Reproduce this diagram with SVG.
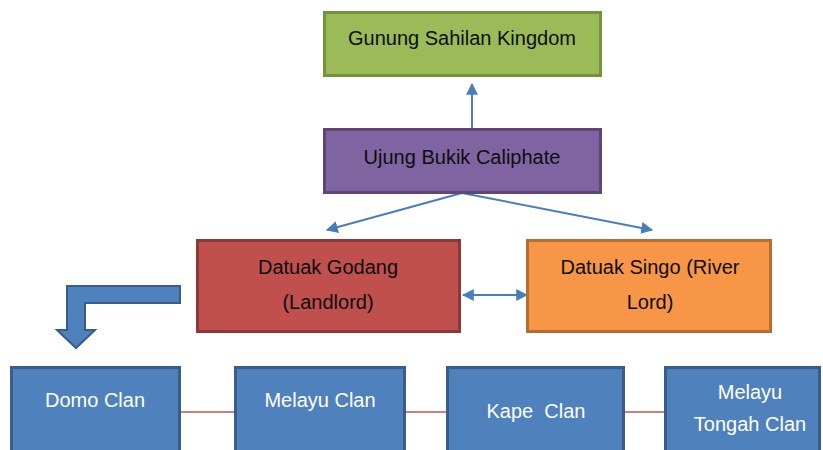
<svg xmlns="http://www.w3.org/2000/svg" width="823" height="450" viewBox="0 0 823 450">
<defs>
<style>
text{font-family:"Liberation Sans",Arial,sans-serif;font-size:20px;text-anchor:middle;}
.dark{fill:#0d0d0d;}
.light{fill:#fff;}
.box{stroke-width:3;}
.conn{stroke:#4a7ebb;stroke-width:2;fill:none;}
.link{stroke:#c0504d;stroke-width:1.5;fill:none;}
</style>
<marker id="ah2" viewBox="0 0 10 10" refX="9" refY="5" markerWidth="12" markerHeight="12" markerUnits="userSpaceOnUse" orient="auto-start-reverse">
<path d="M0,0 L10,5 L0,10 z" fill="#4a7ebb"/>
</marker>
</defs>
<rect width="823" height="450" fill="#fff"/>
<g id="connectors">
<line class="conn" x1="472" y1="128" x2="472" y2="84" marker-end="url(#ah2)"/>
<line class="conn" x1="462" y1="193" x2="327" y2="230" marker-end="url(#ah2)"/>
<line class="conn" x1="462" y1="193" x2="652" y2="230" marker-end="url(#ah2)"/>
<line class="conn" x1="463" y1="295" x2="527" y2="295" marker-start="url(#ah2)" marker-end="url(#ah2)"/>
<line class="link" x1="180" y1="412" x2="235" y2="412"/>
<line class="link" x1="405" y1="412" x2="447" y2="412"/>
<line class="link" x1="624" y1="412" x2="665" y2="412"/>
<path d="M180,286 L67,286 L67,330 L57,330 L76,348 L95,330 L85,330 L85,303 L180,303 Z" fill="#4f81bd" stroke="#385d8a" stroke-width="2" stroke-linejoin="miter"/>
</g>
<g id="gunung">
<rect class="box" x="324.5" y="12.5" width="276" height="63" fill="#9bbb59" stroke="#76923c"/>
<text class="dark" x="462" y="45">Gunung Sahilan Kingdom</text>
</g>
<g id="ujung">
<rect class="box" x="324.5" y="129.5" width="276" height="63" fill="#8064a2" stroke="#5c4776"/>
<text class="dark" x="462" y="164">Ujung Bukik Caliphate</text>
</g>
<g id="godang">
<rect class="box" x="197.5" y="240.5" width="262" height="91" fill="#c0504d" stroke="#8c3836"/>
<text class="dark" x="328" y="274">Datuak Godang</text>
<text class="dark" x="328" y="309">(Landlord)</text>
</g>
<g id="singo">
<rect class="box" x="527.5" y="240.5" width="243" height="91" fill="#f79646" stroke="#b66d31"/>
<text class="dark" x="650" y="274">Datuak Singo (River</text>
<text class="dark" x="650" y="309">Lord)</text>
</g>
<g id="domo">
<rect class="box" x="11.5" y="367.5" width="168" height="100" fill="#4f81bd" stroke="#385d8a"/>
<text class="light" x="95" y="407">Domo Clan</text>
</g>
<g id="melayu">
<rect class="box" x="235.5" y="367.5" width="169" height="100" fill="#4f81bd" stroke="#385d8a"/>
<text class="light" x="320" y="407">Melayu Clan</text>
</g>
<g id="kape">
<rect class="box" x="447.5" y="367.5" width="176" height="100" fill="#4f81bd" stroke="#385d8a"/>
<text class="light" x="536" y="418" xml:space="preserve">Kape  Clan</text>
</g>
<g id="tongah">
<rect class="box" x="665.5" y="367.5" width="154" height="100" fill="#4f81bd" stroke="#385d8a"/>
<text class="light" x="750" y="399">Melayu</text>
<text class="light" x="750" y="431">Tongah Clan</text>
</g>
</svg>
